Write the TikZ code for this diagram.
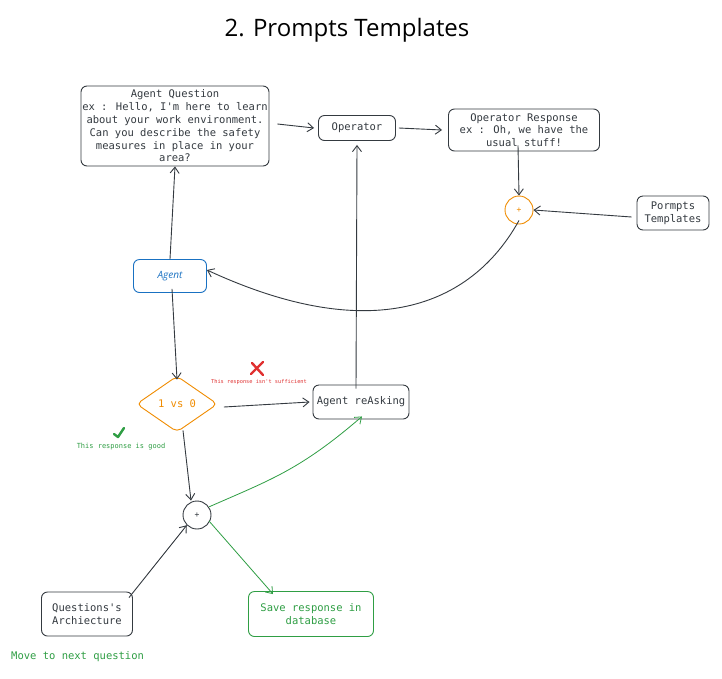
\documentclass[tikz,border=0pt]{standalone}
\usepackage{fontspec}
\setmainfont{Open Sans}
\newfontfamily\monof{DejaVu Sans Mono}
\usetikzlibrary{arrows.meta,shapes.geometric,calc}
\definecolor{ink}{HTML}{343A40}
\definecolor{xorange}{HTML}{F08C00}
\definecolor{xblue}{HTML}{1971C2}
\definecolor{xgreen}{HTML}{2F9E44}
\definecolor{xred}{HTML}{E03131}
\tikzset{
  box/.style={draw=ink, line width=0.9pt, rounded corners=6pt, align=center, inner sep=3pt,
    font=\monof\fontsize{10.5}{12.8}\selectfont, text=ink},
  conn/.style={draw=ink, line width=0.9pt, -{Straight Barb[length=6pt,width=9pt]}},
  gconn/.style={draw=xgreen, line width=0.8pt, -{Straight Barb[length=6pt,width=9pt]}},
  plus/.style={circle, draw, line width=0.9pt, minimum size=28pt, inner sep=0pt,
    font=\monof\fontsize{8}{8}\selectfont},
}
\begin{document}
\begin{tikzpicture}[x=1pt,y=-1pt]
\fill[white] (0,0) rectangle (722,678);
\useasboundingbox (0,0) rectangle (722,678);

\node[font=\fontsize{24}{26}\selectfont, text=black] (title) at (347,30) {2. Prompts Templates};

\node[box, minimum width=188pt, minimum height=80pt, inner sep=1pt] (aq) at (175,126)
  {Agent Question\\ex : Hello, I'm here to learn\\about your work environment.\\Can you describe the safety\\measures in place in your\\area?};
\node[box, minimum width=77pt, minimum height=25pt] (op) at (357,128) {Operator};
\node[box, minimum width=151pt, minimum height=42pt] (or) at (524,130)
  {Operator Response\\ex : Oh, we have the\\usual stuff!};
\node[plus, draw=xorange, text=xorange] (p1) at (519,210) {+};
\node[box, minimum width=72pt, minimum height=34pt] (pt) at (673,213) {Pormpts\\Templates};
\node[box, draw=xblue, text=xblue, minimum width=73pt, minimum height=33pt,
  font=\itshape\fontsize{10}{12}\selectfont] (ag) at (170,276) {Agent};
\node[diamond, draw=xorange, line width=0.9pt, rounded corners=5pt, minimum width=81pt,
  minimum height=56pt, aspect=1.45, inner sep=0pt, text=xorange,
  font=\monof\fontsize{10.5}{12}\selectfont] (dm) at (177,404) {1 vs 0};
\node[box, minimum width=96pt, minimum height=34pt] (ra) at (361,402) {Agent reAsking};
\node[plus, draw=ink, text=ink] (p2) at (197,515) {+};
\node[box, minimum width=91pt, minimum height=44pt, align=left] (qa) at (87,614)
  {Questions's\\Archiecture};
\node[box, draw=xgreen, text=xgreen, minimum width=125pt, minimum height=45pt] (sv) at (311,614)
  {Save response in\\database};
\node[text=xgreen, font=\monof\fontsize{10.5}{12}\selectfont, anchor=west, inner sep=0pt] (mv) at (11,657)
  {Move to next question};

% labels
\node[text=xred, font=\monof\fontsize{5.3}{6}\selectfont, inner sep=0pt] (nsuf) at (259,382)
  {This response isn't sufficient};
\node[text=xgreen, font=\monof\fontsize{7}{8}\selectfont, inner sep=0pt] (good) at (121,447)
  {This response is good};
\coordinate (xm) at (257,368);
\draw[xred, line width=2.4pt, line cap=round] ($(xm)+(-6,6)$) -- ($(xm)+(6,-6)$);
\draw[xred, line width=2.4pt, line cap=round] ($(xm)+(-5,-5)$) -- ($(xm)+(6,7)$);
\coordinate (ck) at (119,434);
\draw[xgreen, line width=2.4pt, line cap=round, line join=round] ($(ck)+(-5,0)$) -- ($(ck)+(-1,3)$) -- ($(ck)+(5,-6)$);

% connectors
\draw[conn] (ag.north) -- (aq.south);
\draw[conn] ([xshift=8pt,yshift=2pt]aq.east) -- ([xshift=-4pt]op.west);
\draw[conn] ([xshift=3pt]op.east) -- ([xshift=-6pt]or.west);
\draw[conn] ([xshift=-6pt,yshift=6pt]or.south) -- (p1.north);
\draw[conn] ([xshift=-5pt,yshift=-4pt]pt.west) -- (p1.east);
\draw[conn] ([yshift=4pt]p1.south) .. controls (475,300) and (380,350) .. ([yshift=6pt]ag.east);
\draw[conn] ([xshift=2pt,yshift=4pt]ag.south) -- ([yshift=-4pt]dm.north);
\draw[conn] ([xshift=6pt,yshift=-3pt]dm.east) -- ([xshift=-3pt]ra.west);
\draw[conn] ([xshift=-5pt,yshift=-4pt]ra.north) -- ([yshift=-4pt]op.south);
\draw[conn] ([xshift=6pt,yshift=2pt]dm.south) -- ([xshift=-6pt]p2.north);
\draw[conn] ([xshift=42pt,yshift=-6pt]qa.north) -- (p2.south west);
\draw[gconn] ([xshift=2pt,yshift=-2pt]p2.north east) .. controls (270,480) and (300,470) .. ([xshift=1pt,yshift=3pt]ra.south);
\draw[gconn] ([xshift=2pt,yshift=4pt]p2.south east) -- ([xshift=-38pt,yshift=-3pt]sv.north);
\end{tikzpicture}
\end{document}
